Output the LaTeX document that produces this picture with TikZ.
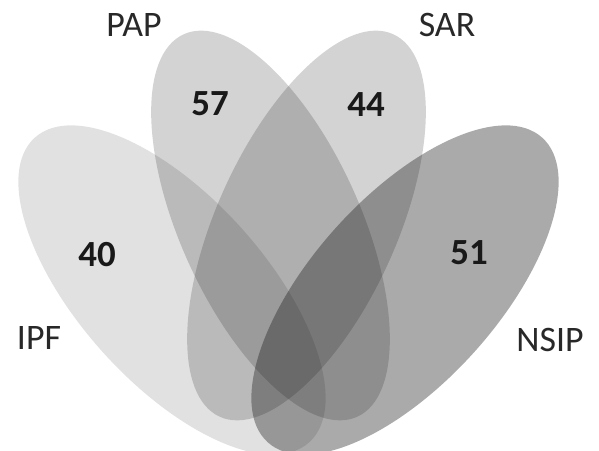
\documentclass[tikz,border=0pt]{standalone}
\usepackage{fontspec}
\setmainfont{Carlito}
\usepackage{xcolor}
\usepackage{tikz}
\usetikzlibrary{positioning, calc}
\definecolor{setgray}{RGB}{20,20,20}
\definecolor{textgray}{RGB}{40,40,40}
\definecolor{numgray}{RGB}{25,25,25}
\tikzset{
  setipf/.style={fill=setgray, fill opacity=0.13},
  setpap/.style={fill=setgray, fill opacity=0.19},
  setsar/.style={fill=setgray, fill opacity=0.19},
  setnsip/.style={fill=setgray, fill opacity=0.36},
  lbl/.style={font=\fontsize{36}{36}\selectfont, text=textgray, inner sep=0pt},
  num/.style={font=\fontsize{37}{37}\selectfont\bfseries, text=numgray, inner sep=0pt}
}
\begin{document}
\begin{tikzpicture}[x=1bp, y=1bp]
  \useasboundingbox (0,0) rectangle (599,451);
  % the four sets
  \fill[setipf]  (172,161) ellipse [x radius=205, y radius=93, rotate=-48];
  \fill[setpap]  (270.5,225.5) ellipse [x radius=210, y radius=90, rotate=114.4];
  \fill[setsar]  (306.5,225.5) ellipse [x radius=210, y radius=90, rotate=65.6];
  \fill[setnsip] (405,161) ellipse [x radius=205, y radius=93, rotate=48];
  % set names
  \node[lbl] (pap) at (134,426) {PAP};
  \node[lbl] (sar) at (447,426) {SAR};
  \node[lbl] (ipf) at (39,113) {IPF};
  \node[lbl] (nsip) at (550,111) {NSIP};
  % counts
  \node[num] (cpap) at (210,347) {57};
  \node[num] (csar) at (366,346) {44};
  \node[num] (cipf) at (97,196) {40};
  \node[num] (cnsip) at (469,198) {51};
\end{tikzpicture}
\end{document}
